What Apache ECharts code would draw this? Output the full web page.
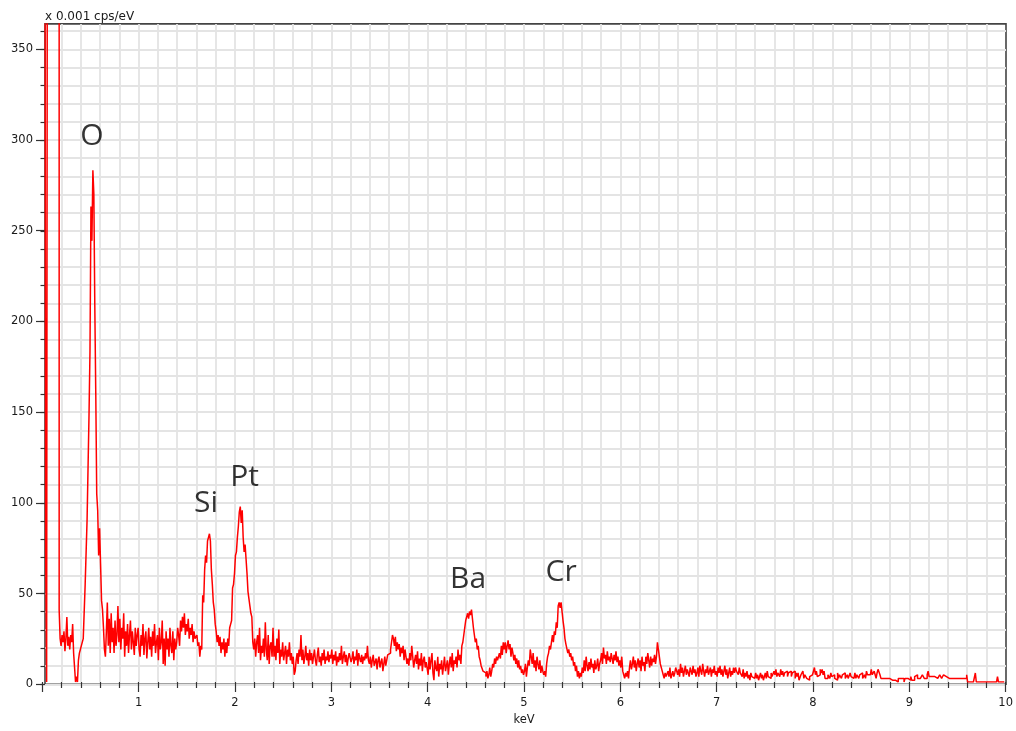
<!DOCTYPE html>
<html>
<head>
<meta charset="utf-8">
<script src="https://cdn.jsdelivr.net/npm/echarts@6/dist/echarts.min.js"></script>
<style>
html,body{margin:0;padding:0;background:#fff;}
#chart{width:1016px;height:731px;}
</style>
</head>
<body>
<div id="chart"></div>
<script>
// Energy channels (keV): energyStart + i * energyStep
const energyStart = 0;
const energyStep = 0.01;
// Counts (x 0.001 cps/eV), one row per 0.2 keV; 600 = off scale (zero peak)
const counts = [
  null, null, null, 600, 72, 0, 600, 600, 600, 600, 600, 600, 600, 600, 600, 600, 600, 600, 40, 24,
  20, 26, 22, 28, 17, 24, 36, 20, 25, 18, 26, 22, 32, 16, 8, 0, 3, 0, 12, 16,
  18, 20, 21, 24, 25, 54, 54, 90, 90, 148, 183, 263, 244, 283, 270, 208, 160, 104, 95, 70,
  85, 65, 45, 40, 30, 18, 14, 28, 44, 20, 35, 16, 38, 22, 30, 16, 34, 20, 26, 42,
  22, 35, 18, 30, 24, 38, 14, 28, 20, 32, 16, 26, 34, 18, 28, 22, 15, 30, 20, 26,
  30, 18, 14, 26, 20, 32, 15, 24, 28, 13, 22, 30, 18, 25, 14, 28, 20, 32, 16, 22,
  26, 12, 30, 18, 22, 34, 10, 24, 9, 28, 18, 24, 14, 30, 20, 16, 28, 12, 24, 18,
  22, 30, 26, 20, 34, 28, 36, 30, 38, 26, 32, 28, 35, 24, 30, 26, 32, 22, 28, 24,
  24, 26, 20, 22, 14, 20, 18, 48, 44, 62, 70, 66, 78, 80, 82, 78, 62, 54, 44, 40,
  32, 28, 22, 26, 20, 25, 16, 22, 18, 24, 14, 22, 16, 24, 20, 30, 32, 34, 52, 54,
  60, 70, 72, 80, 86, 94, 97, 88, 95, 80, 72, 76, 68, 60, 50, 46, 42, 38, 36, 22,
  18, 24, 14, 22, 26, 16, 30, 12, 20, 16, 24, 14, 33, 18, 12, 26, 10, 20, 22, 14,
  30, 14, 20, 12, 24, 16, 29, 10, 18, 14, 22, 12, 16, 20, 10, 18, 14, 22, 12, 16,
  10, 14, 4, 6, 12, 16, 10, 18, 14, 26, 12, 18, 10, 14, 20, 12, 16, 9, 18, 12,
  16, 10, 14, 18, 12, 9, 15, 19, 11, 14, 9, 16, 12, 18, 10, 14, 12, 17, 11, 15,
  13, 18, 10, 15, 12, 17, 9, 14, 11, 16, 12, 20, 10, 14, 17, 11, 15, 9, 13, 16,
  15, 11, 13, 17, 10, 14, 12, 18, 9, 16, 13, 11, 15, 10, 14, 12, 16, 13, 20, 12,
  10, 14, 8, 12, 15, 9, 11, 13, 7, 12, 14, 8, 11, 13, 6, 10, 14, 9, 12, 15,
  14, 16, 18, 22, 26, 24, 20, 25, 17, 22, 18, 21, 14, 19, 16, 20, 12, 18, 14, 10,
  13, 9, 16, 12, 20, 14, 8, 12, 15, 10, 17, 7, 13, 9, 16, 6, 12, 14, 8, 11,
  10, 4, 14, 7, 12, 16, 5, 1, 12, 8, 6, 14, 3, 10, 7, 12, 4, 9, 14, 6,
  6, 12, 4, 10, 14, 8, 16, 6, 12, 10, 14, 8, 18, 12, 15, 10, 20, 22, 26, 30,
  34, 36, 38, 35, 39, 37, 40, 40, 30, 26, 22, 24, 18, 20, 14, 12, 9, 8, 6, 7,
  5, 3, 6, 2, 4, 8, 3, 6, 10, 8, 13, 10, 14, 12, 11, 16, 13, 20, 15, 22,
  18, 22, 16, 20, 23, 18, 21, 14, 19, 16, 12, 15, 10, 13, 8, 12, 7, 9, 5, 7,
  4, 6, 10, 3, 8, 12, 9, 18, 14, 10, 16, 8, 12, 6, 14, 10, 7, 12, 5, 9,
  6, 4, 6, 3, 10, 14, 16, 20, 18, 22, 26, 22, 28, 26, 33, 30, 42, 44, 41, 44,
  43, 34, 30, 24, 21, 20, 16, 18, 14, 16, 12, 14, 9, 11, 6, 9, 3, 6, 2, 5,
  3, 8, 5, 12, 6, 14, 9, 6, 11, 7, 13, 8, 10, 5, 12, 7, 9, 13, 6, 10,
  12, 16, 10, 19, 13, 15, 10, 17, 12, 14, 11, 16, 13, 10, 15, 12, 17, 11, 14, 9,
  12, 8, 14, 6, 4, 2, 5, 3, 6, 2, 8, 12, 7, 10, 14, 8, 12, 6, 10, 13,
  8, 12, 6, 14, 9, 11, 6, 14, 10, 16, 12, 8, 14, 9, 13, 11, 15, 10, 14, 22,
  21, 14, 10, 8, 6, 4, 2, 5, 3, 2, 6, 3, 8, 2, 4, 6, 3, 5, 8, 6,
  4, 7, 3, 10, 5, 8, 3, 6, 9, 4, 7, 5, 3, 8, 6, 4, 9, 5, 7, 3,
  5, 8, 3, 9, 6, 4, 10, 6, 3, 7, 5, 9, 4, 6, 8, 3, 7, 5, 9, 4,
  6, 3, 8, 5, 9, 4, 7, 3, 6, 9, 4, 7, 2, 5, 8, 3, 6, 4, 8, 5,
  8, 6, 7, 4, 8, 5, 6, 3, 7, 2, 5, 3, 6, 2, 4, 1, 5, 3, 4, 2,
  3, 5, 2, 4, 1, 3, 5, 2, 4, 1, 3, 5, 2, 6, 3, 4, 2, 5, 3, 4,
  6, 4, 7, 3, 5, 6, 3, 7, 4, 6, 3, 5, 4, 6, 3, 5, 4, 6, 3, 5,
  4, 6, 2, 5, 3, 5, 1, 2, 4, 3, 6, 2, 4, 5, 2, 3, 1, 3, 2, 4,
  5, 3, 8, 4, 6, 3, 2, 4, 7, 5, 7, 4, 6, 2, 3, 2, 4, 3, 2, 5,
  3, 2, 4, 2, 3, 1, 5, 2, 4, 3, 2, 4, 3, 5, 2, 3, 4, 2, 3, 5,
  3, 4, 2, 3, 5, 2, 4, 3, 2, 4, 3, 5, 2, 3, 4, 2, 6, 4, 3, 4,
  3, 7, 4, 3, 6, 4, 2, 5, 7, 6, 4, 2, 3, 2, 1, 3, 2, 2, 3, 2,
  2, 2, 1, 2, 2, 1, 2, 1, 0, 2, 1, 2, 2, 1, 2, 0, 2, 1, 2, 1,
  2, 1, 3, 1, 2, 1, 3, 2, 4, 2, 3, 2, 3, 2, 4, 3, 2, 3, 2, 4,
  6, 3, 4, 3, 2, 4, 3, 2, 3, 2, 3, 2, 4, 3, 2, 3, 4, 5, 3, 4,
  3, 2, 2, 3, 2, 1, 2, 2, 3, 1, 2, 2, 1, 2, 2, 3, 2, 2, 3, 2,
  4, 0, 0, 0, 0, 0, 0, 0, 0, 5, 0, 0, 0, 0, 0, 0, 0, 0, 0, 0,
  0, 0, 0, 0, 0, 0, 0, 0, 0, 0, 0, 0, 3, 0, 0, 0, 0, 0, 0, 0
];
// Element annotations (label centre in keV / count units)
const peakNames = ['O', 'Si', 'Pt', 'Ba', 'Cr'];
const peakLabelE = [0.515, 1.70, 2.10, 4.42, 5.385];
const peakLabelY = [301.5, 98.5, 113, 56.5, 60.5];
// Axis settings
const xMin = 0, xMax = 10, xMajor = 1;
const yMax = 364, yMajorMax = 350, yMajor = 50, yMinorMax = 360, yMinor = 10;
const yUnit = 'x 0.001 cps/eV';
const xName = 'keV';

const spectrum = counts.map((c, i) => [+(energyStart + i * energyStep).toFixed(3), c]);
const labels = peakNames.map((n, i) => ({ name: n, value: [peakLabelE[i], peakLabelY[i]] }));

const tickFont = { fontFamily: 'DejaVu Sans', fontSize: 11.5, color: '#1a1a1a' };
const gridColor = '#e4e4e4';
const axisColor = '#333';
const B = 46.7, R = 10;

const chart = echarts.init(document.getElementById('chart'), null, { renderer: 'canvas' });
chart.setOption({
  animation: false,
  backgroundColor: '#ffffff',
  title: {
    text: yUnit, left: 45, top: 11, padding: 0,
    textStyle: { fontFamily: 'DejaVu Sans', fontSize: 12, fontWeight: 'normal', color: '#1a1a1a' }
  },
  grid: [
    { left: 42.3, right: R, top: 23.9, bottom: B },
    { left: 45, right: R, top: 23.9, bottom: B, show: true,
      borderColor: '#444', borderWidth: 1.6, backgroundColor: 'transparent' },
    { left: 45, right: R, top: 49.3, bottom: B },
    { left: 45, right: R, top: 31.2, bottom: B }
  ],
  xAxis: [
    { gridIndex: 0, type: 'value', min: xMin, max: xMax, interval: xMajor,
      name: xName, nameLocation: 'middle', nameGap: 32, nameMoveOverlap: false,
      nameTextStyle: { fontFamily: 'DejaVu Sans', fontSize: 11.5, color: '#1a1a1a' },
      axisLine: { show: false },
      axisTick: { show: true, length: 10, lineStyle: { color: axisColor, width: 1.2 } },
      minorTick: { show: true, splitNumber: 5, length: 6, lineStyle: { color: axisColor, width: 1.2 } },
      axisLabel: { ...tickFont, margin: 15, formatter: v => (v === 0 ? '' : String(v)) },
      splitLine: { show: true, showMinLine: false, showMaxLine: false, lineStyle: { color: gridColor, width: 1.8 } },
      minorSplitLine: { show: true, lineStyle: { color: gridColor, width: 1.8 } } },
    { gridIndex: 1, type: 'value', show: false, min: xMin, max: xMax },
    { gridIndex: 2, type: 'value', show: false, min: xMin, max: xMax },
    { gridIndex: 3, type: 'value', show: false, min: xMin, max: xMax }
  ],
  yAxis: [
    { gridIndex: 0, type: 'value', show: false, min: 0, max: yMax },
    { gridIndex: 1, type: 'value', show: false, min: 0, max: yMax },
    { gridIndex: 2, type: 'value', min: 0, max: yMajorMax, interval: yMajor,
      axisLine: { show: false },
      axisTick: { show: true, length: 9, lineStyle: { color: axisColor, width: 1.2 } },
      axisLabel: { ...tickFont, margin: 12 },
      splitLine: { show: false } },
    { gridIndex: 3, type: 'value', min: 0, max: yMinorMax, interval: yMinor,
      axisLine: { show: false },
      axisTick: { show: true, length: 4.5, lineStyle: { color: axisColor, width: 1.2 } },
      axisLabel: { show: false },
      splitLine: { show: true, lineStyle: { color: gridColor, width: 1.8 } } }
  ],
  series: [
    { type: 'line', xAxisIndex: 0, yAxisIndex: 0, data: spectrum, step: 'middle',
      symbol: 'none', clip: true, z: 5, silent: true,
      lineStyle: { color: '#ff0000', width: 1.5 } },
    { type: 'scatter', xAxisIndex: 0, yAxisIndex: 0, data: labels, symbolSize: 1, z: 6, silent: true,
      itemStyle: { color: 'rgba(0,0,0,0)' },
      label: { show: true, position: 'inside', formatter: '{b}',
        fontFamily: 'Open Sans', fontSize: 30, color: '#000' } }
  ]
});
</script>
</body>
</html>
